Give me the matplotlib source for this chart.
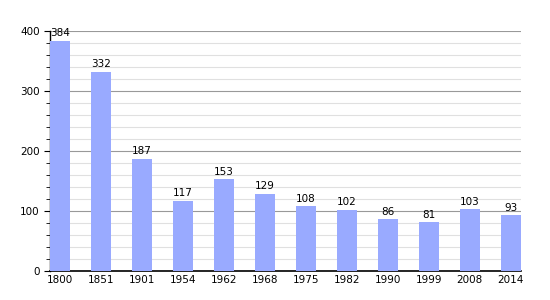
import numpy as np
import matplotlib.pyplot as plt
from matplotlib.ticker import MultipleLocator

# Population data
years = ['1800', '1851', '1901', '1954', '1962', '1968', '1975', '1982', '1990', '1999', '2008', '2014']
population = [384, 332, 187, 117, 153, 129, 108, 102, 86, 81, 103, 93]

fig = plt.figure(figsize=(5.5, 3), dpi=100)
ax = fig.add_axes([50 / 550, 1 - 271 / 300, 471 / 550, 240 / 300])

x = np.arange(len(years))
ax.bar(x, population, width=0.49, color='#99aaff', zorder=3)

for xi, v in zip(x, population):
    ax.text(xi, v + 4, str(v), ha='center', va='bottom', fontsize=7.5, zorder=4)

ax.set_xlim(-0.25, len(years) - 0.75)
ax.set_ylim(0, 400)
ax.set_xticks(x)
ax.set_xticklabels(years, fontsize=7.5)
ax.yaxis.set_major_locator(MultipleLocator(100))
ax.yaxis.set_minor_locator(MultipleLocator(20))
ax.tick_params(axis='y', labelsize=7.5, length=4, width=0.8)
ax.tick_params(axis='y', which='minor', length=3, width=0.6)
ax.tick_params(axis='x', length=0, pad=3)

ax.grid(axis='y', which='major', color='#999999', lw=0.8, zorder=1)
ax.grid(axis='y', which='minor', color='#e0e0e0', lw=0.8, zorder=0)

for s in ['top', 'right']:
    ax.spines[s].set_visible(False)
ax.spines['left'].set_linewidth(1)
ax.spines['bottom'].set_linewidth(1.2)

fig.savefig('out.png', dpi=100)
